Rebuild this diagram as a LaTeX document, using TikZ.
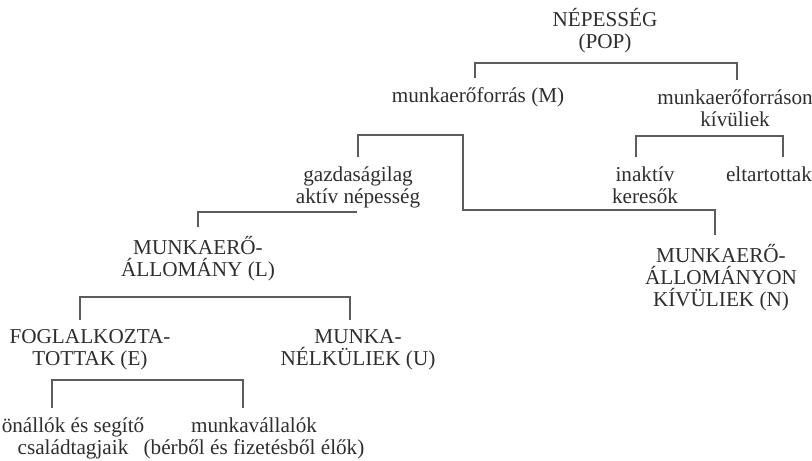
\documentclass[tikz,border=0pt]{standalone}
\usepackage{fontspec}
\setmainfont{Liberation Serif}
\usepackage{xcolor}
\definecolor{nepInk}{HTML}{2E2E2E}
\definecolor{nepRule}{HTML}{5C5C5C}
\tikzset{
  nepText/.style={anchor=center, inner xsep=2pt, inner ysep=4.5pt, align=center, text=nepInk, font=\fontsize{10.6}{11}\selectfont},
  nepRuleLine/.style={draw=nepRule, line width=0.7pt}
}
\begin{document}
\begin{tikzpicture}[x=0.5pt,y=-0.5pt]
\useasboundingbox (0,0) rectangle (812,460);
\node[nepText] (pop) at (605,31) {NÉPESSÉG\\(POP)};
\node[nepText] (mForras) at (478,97) {munkaerőforrás (M)};
\node[nepText] (mKivul) at (735,108) {munkaerőforráson\\kívüliek};
\node[nepText] (gazd) at (358,187) {gazdaságilag\\aktív népesség};
\node[nepText] (inaktiv) at (645,185) {inaktív\\keresők};
\node[nepText] (eltart) at (769,174) {eltartottak};
\node[nepText] (mAllom) at (198,259) {MUNKAERŐ-\\ÁLLOMÁNY (L)};
\node[nepText] (mNkivul) at (721,278) {MUNKAERŐ-\\ÁLLOMÁNYON\\KÍVÜLIEK (N)};
\node[nepText] (fogl) at (90,350) {FOGLALKOZTA-\\TOTTAK (E)};
\node[nepText] (munkaU) at (358,350) {MUNKA-\\NÉLKÜLIEK (U)};
\node[nepText] (onallo) at (73,438) {önállók és segítő\\családtagjaik};
\node[nepText] (munkavall) at (254,438) {munkavállalók\\(bérből és fizetésből élők)};
\coordinate (barPop) at (606,63);
\coordinate (barK) at (710,136);
\coordinate (barM) at (410,135);
\coordinate (mTurn) at (463,210);
\coordinate (gazdFoot) at (357,212);
\coordinate (barL) at (215,297);
\coordinate (barE) at (150,380);
\draw[nepRuleLine] ([xshift=-1.5pt]mForras.north) |- (barPop) -| ([xshift=1pt]mKivul.north);
\draw[nepRuleLine] ([xshift=-4.5pt]inaktiv.north) |- (barK) -| ([xshift=7pt]eltart.north);
\draw[nepRuleLine] (gazd.north) |- (barM) -| (mTurn) -| ([xshift=-3pt]mNkivul.north);
\draw[nepRuleLine] (gazdFoot) -| (mAllom.north);
\draw[nepRuleLine] ([xshift=-5pt]fogl.north) |- (barL) -| ([xshift=-4pt]munkaU.north);
\draw[nepRuleLine] ([xshift=-10.5pt]onallo.north) |- (barE) -| ([xshift=-5.5pt]munkavall.north);
\end{tikzpicture}
\end{document}
